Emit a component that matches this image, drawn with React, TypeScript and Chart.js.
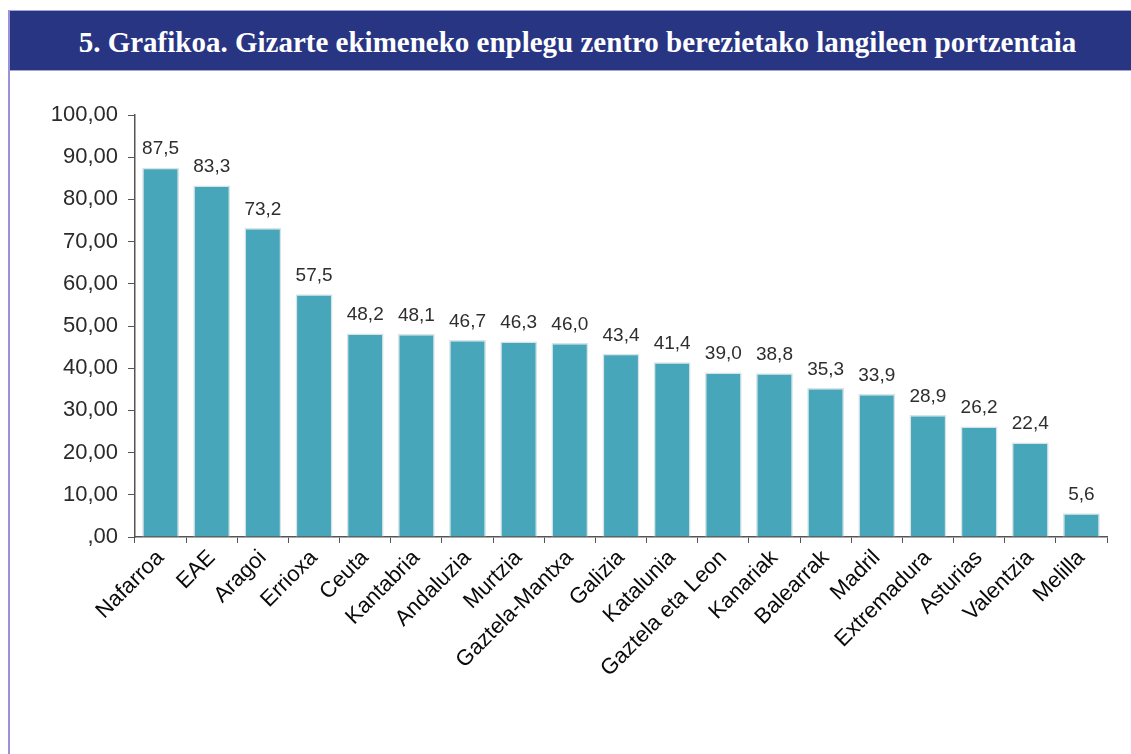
import React, { useEffect, useRef } from "react";
import { Chart, registerables } from "chart.js";

Chart.register(...registerables);

const TITLE = "5. Grafikoa. Gizarte ekimeneko enplegu zentro berezietako langileen portzentaia";

const categories = [
  "Nafarroa", "EAE", "Aragoi", "Errioxa", "Ceuta", "Kantabria", "Andaluzia", "Murtzia",
  "Gaztela-Mantxa", "Galizia", "Katalunia", "Gaztela eta Leon", "Kanariak", "Balearrak",
  "Madril", "Extremadura", "Asturias", "Valentzia", "Melilla",
];

const values = [
  87.5, 83.3, 73.2, 57.5, 48.2, 48.1, 46.7, 46.3, 46.0, 43.4, 41.4, 39.0, 38.8, 35.3, 33.9,
  28.9, 26.2, 22.4, 5.6,
];

const yTickValues = [0, 10, 20, 30, 40, 50, 60, 70, 80, 90, 100];

const fmtTick = (v: number) => {
  const s = v.toFixed(2).replace(".", ",");
  return v === 0 ? s.replace(/^0/, "") : s;
};
const fmtLabel = (v: number) => v.toFixed(1).replace(".", ",");

const FONT = "Arial, 'Liberation Sans', sans-serif";

const valueLabels = {
  id: "valueLabels",
  afterDatasetsDraw(chart: any) {
    const ctx = chart.ctx;
    const meta = chart.getDatasetMeta(0);
    ctx.save();
    ctx.font = "19px " + FONT;
    ctx.fillStyle = "#2e2e2e";
    ctx.textAlign = "center";
    ctx.textBaseline = "bottom";
    meta.data.forEach((bar: any, i: number) => {
      ctx.fillText(fmtLabel(values[i]), bar.x, bar.y - 9);
    });
    ctx.restore();
  },
};

export default function App() {
  const ref = useRef<HTMLCanvasElement>(null);

  useEffect(() => {
    if (!ref.current) return;
    const chart = new Chart(ref.current, {
      type: "bar",
      data: {
        labels: categories,
        datasets: [
          {
            data: values,
            backgroundColor: "#47a6b9",
            borderColor: "#d6e4e8",
            borderWidth: 1.5,
            categoryPercentage: 0.72,
            barPercentage: 1,
          },
        ],
      },
      options: {
        responsive: false,
        animation: false,
        layout: { padding: { top: 44, right: 24, left: 0, bottom: 0 } },
        plugins: { legend: { display: false }, tooltip: { enabled: false }, title: { display: false } },
        scales: {
          x: {
            grid: { drawOnChartArea: false, drawTicks: true, tickLength: 6, color: "#555", offset: true },
            border: { display: true, color: "#555", width: 1.5 },
            ticks: {
              color: "#0a0a0a",
              font: { family: FONT, size: 22 },
              minRotation: 45,
              maxRotation: 45,
              autoSkip: false,
              padding: 2,
            },
            afterFit: (s: any) => { s.height = 216; },
          },
          y: {
            min: 0,
            max: 100,
            afterBuildTicks: (s: any) => { s.ticks = yTickValues.map((v) => ({ value: v })); },
            grid: { drawOnChartArea: false, drawTicks: true, tickLength: 7, color: "#555" },
            border: { display: true, color: "#555", width: 1.5 },
            ticks: {
              color: "#2a2a2a",
              font: { family: FONT, size: 22 },
              padding: 10,
              callback: (v: any) => fmtTick(Number(v)),
            },
            afterFit: (s: any) => { s.width = 125; },
          },
        },
      },
      plugins: [valueLabels],
    });
    return () => chart.destroy();
  }, []);

  return (
    <div
      style={{
        position: "absolute",
        left: 8,
        top: 10,
        width: 1123,
        height: 744,
        borderLeft: "2px solid #9a92d8",
        borderTop: "1px solid #a8a3d6",
        boxSizing: "border-box",
        background: "#fff",
      }}
    >
      <div
        style={{
          height: 60,
          background: "#283583",
          borderBottom: "1px solid #a8a3d6",
          color: "#fff",
          fontFamily: "'Liberation Serif', 'Times New Roman', serif",
          fontWeight: "bold",
          fontSize: 29,
          display: "flex",
          alignItems: "center",
          justifyContent: "center",
          paddingTop: 3,
          paddingLeft: 14,
          boxSizing: "border-box",
          whiteSpace: "nowrap",
        }}
      >
        {TITLE}
      </div>
      <canvas ref={ref} width={1121} height={682} style={{ display: "block" }} />
    </div>
  );
}
